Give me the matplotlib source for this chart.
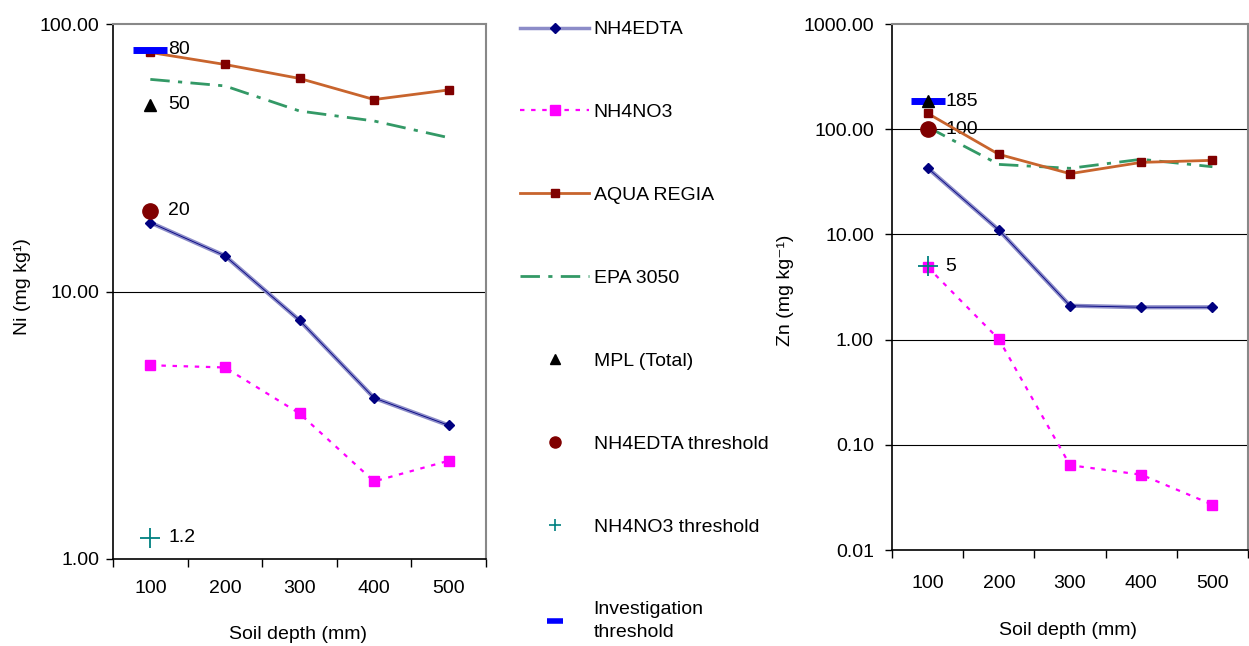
import numpy as np
import matplotlib
matplotlib.use("Agg")
import matplotlib.pyplot as plt
from matplotlib.lines import Line2D
from matplotlib.ticker import FixedLocator, FormatStrFormatter

plt.rcParams['font.family'] = ['Liberation Sans', 'DejaVu Sans']

# data
depth = ['100', '200', '300', '400', '500']

ni_edta = [18.1, 13.6, 7.8, 4.0, 3.16]
ni_no3 = [5.3, 5.2, 3.5, 1.95, 2.33]
ni_aqua = [78.3, 70.6, 62.6, 52.2, 56.7]
ni_epa = [62.1, 58.7, 47.3, 43.4, 37.6]
ni_mpl = 50
ni_edta_thr = 20
ni_no3_thr = 1.2
ni_invest = 80

zn_edta = [42.8, 11.0, 2.1, 2.03, 2.03]
zn_no3 = [4.9, 1.01, 0.064, 0.052, 0.027]
zn_aqua = [141.6, 57.7, 37.8, 48.4, 50.6]
zn_epa = [105.0, 46.3, 42.5, 51.8, 44.0]
zn_mpl = 185
zn_edta_thr = 100
zn_no3_thr = 5
zn_invest = 185

ni_ticks = [1, 10, 100]
zn_ticks = [0.01, 0.1, 1, 10, 100, 1000]

labels = ['NH4EDTA', 'NH4NO3', 'AQUA REGIA', 'EPA 3050', 'MPL (Total)',
          'NH4EDTA threshold', 'NH4NO3 threshold', 'Investigation\nthreshold']

x = np.arange(len(depth))
fs = 14


def draw(ax, edta, no3, aqua, epa, mpl, edta_thr, no3_thr, invest, ticks, tickpad, ypad):
    # series lines
    ax.plot(x, edta, color='#8c8cc8', lw=3, zorder=3)
    ax.plot(x, edta, color='#000080', lw=0.6, marker='D', ms=5, zorder=4)
    ax.plot(x, no3, color='#ff00ff', lw=1.6, ls=(0, (2, 3)), marker='s', ms=7, zorder=4)
    ax.plot(x, aqua, color='#c8642d', lw=2, marker='s', ms=5.5, mfc='#800000', mec='#800000', zorder=4)
    ax.plot(x, epa, color='#339966', lw=2, ls=(0, (7, 3, 1.5, 3)), zorder=3)
    # thresholds at first depth
    ax.plot([0], [invest], marker='_', ms=24, mew=5, color='#0000ff', zorder=5)
    ax.plot([0], [mpl], marker='^', ms=9, color='black', ls='none', zorder=5)
    ax.plot([0], [edta_thr], marker='o', ms=11, color='#800000', ls='none', zorder=5)
    ax.plot([0], [no3_thr], marker='+', ms=15, mew=1.3, color='#008080', ls='none', zorder=6)
    for v in sorted(set([invest, mpl, edta_thr, no3_thr])):
        txt = ('%g' % v)
        ax.annotate(txt, (0, v), xytext=(13, 0), textcoords='offset points',
                    va='center', ha='left', fontsize=fs)

    ax.set_yscale('log')
    ax.set_ylim(ticks[0], ticks[-1])
    ax.set_xlim(-0.5, len(depth) - 0.5)
    ax.yaxis.set_major_locator(FixedLocator(ticks))
    ax.yaxis.set_minor_locator(FixedLocator([]))
    ax.yaxis.set_major_formatter(FormatStrFormatter('%.2f'))
    for t in ticks[1:-1]:
        ax.axhline(t, color='black', lw=0.8, zorder=1)

    ax.set_xticks(x)
    ax.set_xticklabels(depth)
    ax.set_xticks(np.arange(len(depth) + 1) - 0.5, minor=True)
    ax.tick_params(axis='x', which='major', length=0, pad=tickpad, labelsize=fs)
    ax.tick_params(axis='x', which='minor', length=6, width=1)
    ax.tick_params(axis='y', which='major', length=5, width=1, pad=ypad, labelsize=fs)

    for s in ['top', 'right']:
        ax.spines[s].set_color('#888888')
        ax.spines[s].set_linewidth(1.5)
    for s in ['left', 'bottom']:
        ax.spines[s].set_color('black')
        ax.spines[s].set_linewidth(1.2)


fig = plt.figure(figsize=(12.49, 6.46), dpi=100)

ax1 = fig.add_axes([0.0905, 0.1347, 0.2986, 0.8281])
draw(ax1, ni_edta, ni_no3, ni_aqua, ni_epa, ni_mpl, ni_edta_thr, ni_no3_thr, ni_invest, ni_ticks, 15, 5)
ax1.set_ylabel('Ni (mg kg\u00b9)', fontsize=fs)
ax1.yaxis.set_label_coords(-0.22, 0.51)
ax1.set_xlabel('Soil depth (mm)', fontsize=fs)
ax1.xaxis.set_label_coords(0.496, -0.1255)

ax2 = fig.add_axes([0.7142, 0.1486, 0.285, 0.8142])
draw(ax2, zn_edta, zn_no3, zn_aqua, zn_epa, zn_mpl, zn_edta_thr, zn_no3_thr, zn_invest, zn_ticks, 18, 8)
ax2.set_ylabel('Zn (mg kg\u207b\u00b9)', fontsize=fs)
ax2.yaxis.set_label_coords(-0.276, 0.494)
ax2.set_xlabel('Soil depth (mm)', fontsize=fs)
ax2.xaxis.set_label_coords(0.494, -0.1376)

# legend in the middle
handles = [
    Line2D([], [], color='#8c8cc8', lw=2.5, marker='D', ms=5, mfc='#000080', mec='#000080'),
    Line2D([], [], color='#ff00ff', lw=1.6, ls=(0, (2, 3)), marker='s', ms=7),
    Line2D([], [], color='#c8642d', lw=2, marker='s', ms=5.5, mfc='#800000', mec='#800000'),
    Line2D([], [], color='#339966', lw=2, ls=(0, (7, 3, 1.5, 3))),
    Line2D([], [], color='black', ls='none', marker='^', ms=7),
    Line2D([], [], color='#800000', ls='none', marker='o', ms=8),
    Line2D([], [], color='#008080', ls='none', marker='+', ms=9, mew=1.2),
    Line2D([], [], color='#0000ff', ls='none', marker='_', ms=12, mew=4),
]
leg = fig.legend(handles, labels, loc='upper left', bbox_to_anchor=(0.4026, 0.995),
                 frameon=False, fontsize=fs, numpoints=1, handlelength=3.55,
                 handletextpad=0.22, labelspacing=3.36)
leg.get_texts()[-1].set_linespacing(1.45)

fig.savefig('out.png', dpi=100)
